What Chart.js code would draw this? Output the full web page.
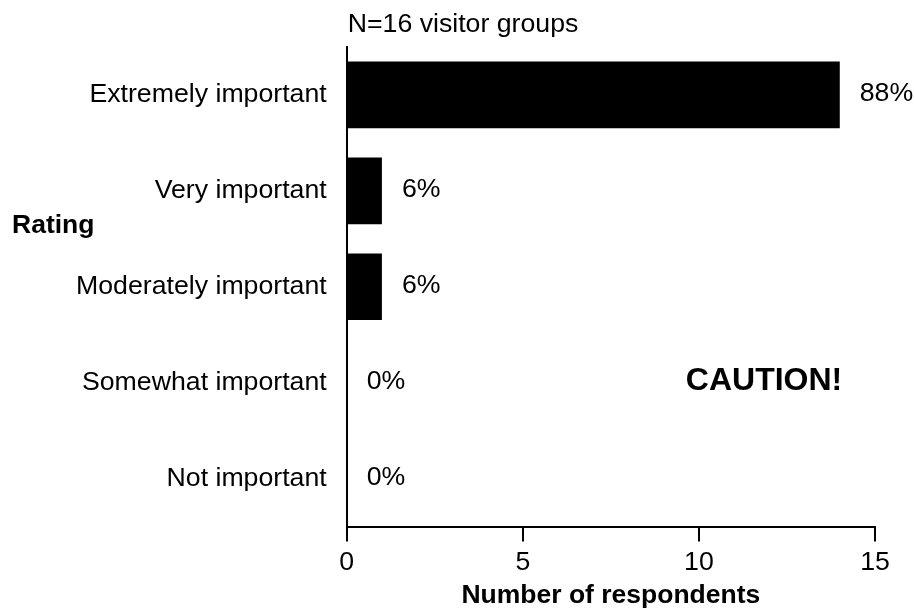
<!DOCTYPE html>
<html>
<head>
<meta charset="utf-8">
<script src="https://cdn.jsdelivr.net/npm/chart.js@4/dist/chart.umd.min.js"></script>
<style>
  html, body { margin: 0; padding: 0; background: #ffffff; }
  #wrap { width: 914px; height: 614px; position: relative; }
</style>
</head>
<body>
<div id="wrap"><canvas id="c"></canvas></div>
<script>
const categories = ["Extremely important", "Very important", "Moderately important", "Somewhat important", "Not important"];
const respondents = [14, 1, 1, 0, 0];
const totalGroups = 16;
const xTicks = [0, 5, 10, 15];
const subtitleText = "N=16 visitor groups";
const yTitleText = "Rating";
const xTitleText = "Number of respondents";
const noteText = "CAUTION!";

const FONT = "'Liberation Sans', Arial, Helvetica, sans-serif";
const FS = 26.7;

const annotate = {
  id: 'annotate',
  afterDatasetsDraw(chart) {
    const ctx = chart.ctx;
    const xs = chart.scales.x, ys = chart.scales.y;
    const area = chart.chartArea;
    ctx.save();
    ctx.fillStyle = '#000';
    // percentage labels
    ctx.font = FS + 'px ' + FONT;
    ctx.textAlign = 'left';
    ctx.textBaseline = 'middle';
    respondents.forEach((v, i) => {
      const pct = Math.round(v / totalGroups * 100) + '%';
      ctx.fillText(pct, xs.getPixelForValue(v) + 20, ys.getPixelForValue(i) - 1);
    });
    // subtitle
    ctx.textBaseline = 'alphabetic';
    ctx.fillText(subtitleText, area.left + 1, area.top - 15);
    // y title
    ctx.font = 'bold 26.5px ' + FONT;
    ctx.fillText(yTitleText, 12, ys.getPixelForValue(1.44));
    // caution
    ctx.font = 'bold 32px ' + FONT;
    ctx.textAlign = 'center';
    ctx.textBaseline = 'middle';
    ctx.fillText(noteText, xs.getPixelForValue(11.85), ys.getPixelForValue(3) - 1);
    ctx.restore();
  }
};

new Chart(document.getElementById('c'), {
  type: 'bar',
  data: {
    labels: categories,
    datasets: [{
      data: respondents,
      backgroundColor: '#000000',
      borderWidth: 0,
      categoryPercentage: 1.0,
      barPercentage: 0.695
    }]
  },
  options: {
    indexAxis: 'y',
    responsive: true,
    maintainAspectRatio: false,
    animation: false,
    events: [],
    layout: { padding: { top: 47, right: 39, left: 0, bottom: 0 } },
    plugins: {
      legend: { display: false },
      tooltip: { enabled: false },
      title: { display: false }
    },
    scales: {
      x: {
        type: 'linear',
        min: 0,
        max: 15,
        afterBuildTicks(scale) { scale.ticks = xTicks.map(v => ({ value: v })); },
        afterFit(scale) { scale.height = 87.5; },
        border: { display: true, color: '#000', width: 2 },
        grid: { display: true, drawOnChartArea: false, drawTicks: true, tickLength: 15, color: '#000', lineWidth: 2 },
        ticks: { color: '#000', font: { family: FONT, size: FS }, padding: 5, maxRotation: 0 },
        title: { display: true, text: xTitleText, color: '#000', font: { family: FONT, size: 26.5, weight: 'bold' }, padding: { top: 0, bottom: 2 } }
      },
      y: {
        type: 'category',
        afterFit(scale) { scale.width = 346.7; },
        border: { display: true, color: '#000', width: 2 },
        grid: { display: false, drawTicks: false },
        ticks: { color: '#000', font: { family: FONT, size: FS }, padding: 20 }
      }
    }
  },
  plugins: [annotate]
});
</script>
</body>
</html>
